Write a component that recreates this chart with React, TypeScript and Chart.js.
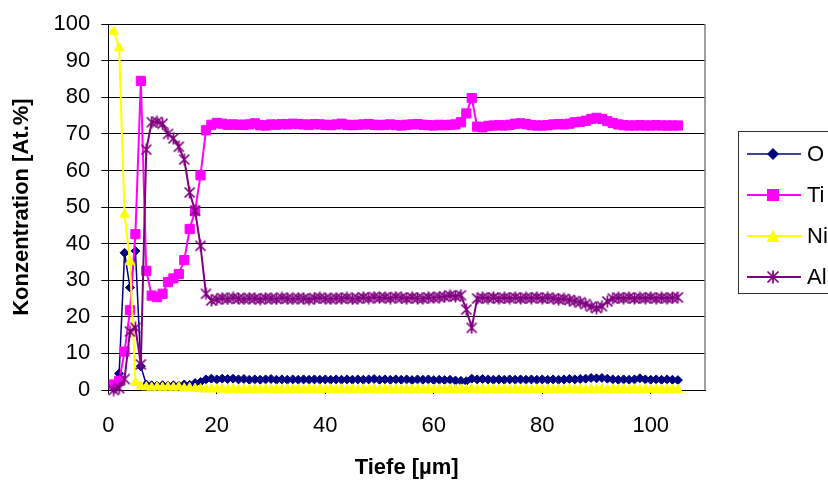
import React, { useEffect, useRef } from 'react';
import { Chart, registerables } from 'chart.js';

Chart.register(...registerables);

// ---- Data ----
const depth = [
  1, 2, 3, 4, 5, 6, 7, 8, 9, 10,
  11, 12, 13, 14, 15, 16, 17, 18, 19, 20,
  21, 22, 23, 24, 25, 26, 27, 28, 29, 30,
  31, 32, 33, 34, 35, 36, 37, 38, 39, 40,
  41, 42, 43, 44, 45, 46, 47, 48, 49, 50,
  51, 52, 53, 54, 55, 56, 57, 58, 59, 60,
  61, 62, 63, 64, 65, 66, 67, 68, 69, 70,
  71, 72, 73, 74, 75, 76, 77, 78, 79, 80,
  81, 82, 83, 84, 85, 86, 87, 88, 89, 90,
  91, 92, 93, 94, 95, 96, 97, 98, 99, 100,
  101, 102, 103, 104, 105,
];

const oxygen = [
  0.5, 4.5, 37.5, 28, 38, 6.5, 1.5, 1.3, 1.2, 1.3,
  1.2, 1.3, 1.2, 1.5, 1.4, 1.9, 2.2, 2.9, 3.1, 2.9,
  3.1, 3.0, 3.1, 2.9, 3.0, 2.8, 2.9, 2.8, 2.9, 3.0,
  2.8, 2.9, 2.8, 2.9, 2.8, 2.9, 2.8, 2.9, 2.8, 2.9,
  2.8, 2.9, 2.8, 2.9, 2.8, 2.9, 2.8, 2.9, 3.0, 2.8,
  2.9, 2.8, 2.9, 2.8, 2.9, 2.7, 2.9, 2.8, 2.9, 2.7,
  2.8, 2.7, 2.8, 2.6, 2.5, 2.4, 3.1, 2.9, 3.0, 2.9,
  2.8, 2.9, 2.8, 2.9, 2.8, 2.9, 2.8, 2.9, 2.8, 2.9,
  2.8, 2.9, 2.8, 2.9, 3.0, 2.9, 3.0, 3.1, 3.3, 3.2,
  3.3, 3.1, 2.9, 2.8, 2.9, 2.8, 2.9, 3.2, 2.9, 2.8,
  2.9, 2.8, 2.9, 2.8, 2.7,
];

const titanium = [
  1.5, 2.5, 10.5, 21.8, 42.6, 84.5, 32.6, 25.8, 25.4, 26.3,
  29.5, 30.5, 31.7, 35.5, 44, 49, 58.7, 71, 72.5, 73,
  72.8, 72.5, 72.6, 72.5, 72.5, 72.6, 72.9, 72.4, 72.3, 72.6,
  72.5, 72.7, 72.6, 72.8, 72.7, 72.6, 72.5, 72.7, 72.6, 72.5,
  72.4, 72.6, 72.8, 72.5, 72.4, 72.5, 72.6, 72.7, 72.5, 72.4,
  72.5, 72.6, 72.4, 72.3, 72.5, 72.6, 72.7, 72.5, 72.4, 72.3,
  72.5, 72.4, 72.5, 72.6, 73.2, 75.6, 79.8, 72.0, 71.8, 72.2,
  72.3, 72.4, 72.3, 72.5, 72.8, 72.9, 72.7, 72.4, 72.3, 72.3,
  72.4, 72.6, 72.7, 72.6, 72.8, 73.2, 73.3, 73.6, 74.1, 74.4,
  74.1, 73.5, 73.0, 72.6, 72.4, 72.3, 72.3, 72.4, 72.3, 72.3,
  72.4, 72.3, 72.3, 72.3, 72.3,
];

const nickel = [
  98, 93.5, 48, 35, 2, 1, 0.8, 0.7, 0.8, 0.7,
  0.8, 0.7, 0.8, 0.5, 0.6, 0.4, 0.3, 0.2, 0.3, 0.2,
  0.3, 0.1, 0.2, 0.1, 0.2, 0.1, 0.2, 0.1, 0.2, 0.1,
  0.2, 0.1, 0.2, 0.1, 0.2, 0.1, 0.2, 0.1, 0.2, 0.1,
  0.2, 0.1, 0.2, 0.1, 0.2, 0.1, 0.2, 0.1, 0.2, 0.1,
  0.2, 0.1, 0.2, 0.1, 0.2, 0.1, 0.2, 0.1, 0.2, 0.1,
  0.2, 0.1, 0.2, 0.1, 0.2, 0.1, 0.2, 0.1, 0.2, 0.1,
  0.2, 0.1, 0.2, 0.1, 0.2, 0.1, 0.2, 0.1, 0.2, 0.1,
  0.2, 0.1, 0.2, 0.1, 0.2, 0.1, 0.2, 0.1, 0.2, 0.1,
  0.2, 0.1, 0.2, 0.1, 0.2, 0.1, 0.2, 0.1, 0.2, 0.1,
  0.2, 0.1, 0.2, 0.1, 0.1,
];

const aluminium = [
  0, 0.5, 3, 16, 17, 7, 65.7, 73.2, 73.3, 72.8,
  70, 68.8, 66.5, 63, 54, 49, 39.4, 26.3, 24.5, 24.8,
  25.1, 24.9, 25.2, 25.0, 24.9, 25.1, 25.0, 24.8, 25.1, 25.0,
  24.9, 25.2, 25.0, 24.9, 25.1, 25.0, 24.8, 25.1, 25.2, 25.0,
  24.9, 25.1, 25.0, 25.2, 24.9, 25.0, 25.3, 25.1, 25.4, 25.2,
  25.3, 25.1, 25.4, 25.2, 25.0, 25.3, 25.1, 25.0, 25.3, 25.2,
  25.4, 25.5, 25.8, 25.6, 25.9, 22.0, 17.0, 25.0, 25.2, 25.1,
  25.3, 25.0, 25.2, 25.1, 25.3, 25.0, 25.2, 25.1, 25.3, 25.0,
  25.2, 25.0, 24.8, 24.9, 24.6, 24.3, 24.0, 23.5, 22.8, 22.4,
  22.9, 24.2, 25.0, 25.2, 25.1, 25.3, 25.0, 25.2, 25.1, 25.3,
  25.0, 25.2, 25.1, 25.2, 25.3,
];

const seriesNames = ['O', 'Ti', 'Ni', 'Al'];
const xTickValues = [0, 20, 40, 60, 80, 100];
const yTickValues = [0, 10, 20, 30, 40, 50, 60, 70, 80, 90, 100];

const xTitle = 'Tiefe [µm]';
const yTitle = 'Konzentration [At.%]';

const COLORS = ['#000080', '#FF00FF', '#FFFF00', '#800080'];
const FONT = '"Liberation Sans", Arial, Helvetica, sans-serif';

const W = 828;
const H = 482;

function makeStar(color: string, size: number) {
  const c = document.createElement('canvas');
  c.width = size;
  c.height = size;
  const ctx = c.getContext('2d')!;
  ctx.strokeStyle = color;
  ctx.lineWidth = 1.7;
  ctx.lineCap = 'butt';
  const m = 1.5;
  const mid = size / 2;
  ctx.beginPath();
  ctx.moveTo(m, m);
  ctx.lineTo(size - m, size - m);
  ctx.moveTo(size - m, m);
  ctx.lineTo(m, size - m);
  ctx.moveTo(mid, 0.5);
  ctx.lineTo(mid, size - 0.5);
  ctx.stroke();
  return c;
}

export default function App() {
  const ref = useRef<HTMLCanvasElement | null>(null);

  useEffect(() => {
    const canvas = ref.current;
    if (!canvas) return;
    const starPlot = makeStar(COLORS[3], 13);
    const starLegend = makeStar(COLORS[3], 14);

    const mk = (vals: number[]) => depth.map((d, i) => ({ x: d, y: vals[i] }));

    const legendPlugin = {
      id: 'excelFrameLegend',
      afterDraw(chart: any) {
        const ctx = chart.ctx as CanvasRenderingContext2D;
        const a = chart.chartArea;
        ctx.save();
        // right border of plot area
        ctx.strokeStyle = '#808080';
        ctx.lineWidth = 1.5;
        ctx.beginPath();
        ctx.moveTo(a.right, a.top);
        ctx.lineTo(a.right, a.bottom);
        ctx.stroke();

        // legend box (partly outside the picture, as in the original)
        ctx.strokeStyle = '#333333';
        ctx.lineWidth = 1;
        ctx.strokeRect(738.5, 131.5, 150, 162);
        const ys = [154, 195, 236, 277];
        ctx.font = `22px ${FONT}`;
        ctx.textBaseline = 'middle';
        ctx.textAlign = 'left';
        seriesNames.forEach((name, i) => {
          const y = ys[i];
          const col = COLORS[i];
          ctx.strokeStyle = col;
          ctx.lineWidth = i === 0 ? 1.5 : 2;
          ctx.beginPath();
          ctx.moveTo(747, y);
          ctx.lineTo(801, y);
          ctx.stroke();
          const x = 773;
          ctx.fillStyle = col;
          ctx.beginPath();
          if (i === 0) {
            ctx.moveTo(x, y - 6);
            ctx.lineTo(x + 6, y);
            ctx.lineTo(x, y + 6);
            ctx.lineTo(x - 6, y);
            ctx.closePath();
            ctx.fill();
          } else if (i === 1) {
            ctx.fillRect(x - 6, y - 6, 12, 12);
          } else if (i === 2) {
            ctx.moveTo(x, y - 6.5);
            ctx.lineTo(x + 6.5, y + 6);
            ctx.lineTo(x - 6.5, y + 6);
            ctx.closePath();
            ctx.fill();
          } else {
            ctx.drawImage(starLegend, x - 7, y - 7);
          }
          ctx.fillStyle = '#000';
          ctx.fillText(name, 807, y + 1);
        });
        ctx.restore();
      },
    };

    const chart = new Chart(canvas, {
      type: 'line',
      data: {
        datasets: [
          {
            label: seriesNames[0],
            data: mk(oxygen),
            borderColor: COLORS[0],
            backgroundColor: COLORS[0],
            pointBackgroundColor: COLORS[0],
            pointBorderColor: COLORS[0],
            pointStyle: 'rectRot',
            pointRadius: 4.5,
            pointBorderWidth: 1,
            borderWidth: 1.5,
            order: 4,
            clip: false as any,
          },
          {
            label: seriesNames[1],
            data: mk(titanium),
            borderColor: COLORS[1],
            backgroundColor: COLORS[1],
            pointBackgroundColor: COLORS[1],
            pointBorderColor: COLORS[1],
            pointStyle: 'rect',
            pointRadius: 6.5,
            pointBorderWidth: 1,
            borderWidth: 2,
            order: 3,
            clip: false as any,
          },
          {
            label: seriesNames[2],
            data: mk(nickel),
            borderColor: COLORS[2],
            backgroundColor: COLORS[2],
            pointBackgroundColor: COLORS[2],
            pointBorderColor: COLORS[2],
            pointStyle: 'triangle',
            pointRadius: 5.5,
            pointBorderWidth: 1,
            borderWidth: 2,
            order: 2,
            clip: false as any,
          },
          {
            label: seriesNames[3],
            data: mk(aluminium),
            borderColor: COLORS[3],
            backgroundColor: COLORS[3],
            pointStyle: starPlot as any,
            pointRadius: 6,
            borderWidth: 2,
            order: 1,
            clip: false as any,
          },
        ],
      },
      options: {
        animation: false,
        responsive: false,
        maintainAspectRatio: false,
        devicePixelRatio: 1,
        layout: { padding: { left: 0, right: 123, top: 22.3, bottom: 0 } },
        plugins: {
          legend: { display: false },
          tooltip: { enabled: false },
        },
        elements: { line: { tension: 0 } },
        scales: {
          x: {
            type: 'linear',
            position: 'bottom',
            min: 0,
            max: 110,
            afterBuildTicks: (s: any) => {
              s.ticks = xTickValues.map((v) => ({ value: v }));
            },
            afterFit: (s: any) => {
              s.height = 92;
            },
            ticks: {
              color: '#000',
              font: { family: FONT, size: 22 },
              padding: 19,
              maxRotation: 0,
              autoSkip: false,
            },
            grid: {
              drawOnChartArea: false,
              drawTicks: true,
              tickLength: 4,
              color: '#000',
            },
            border: { color: '#000', width: 1 },
            title: {
              display: true,
              text: xTitle,
              color: '#000',
              font: { family: FONT, size: 22, weight: 'bold' },
              padding: { top: 0, bottom: 1 },
            },
          },
          y: {
            type: 'linear',
            min: 0,
            max: 100,
            afterBuildTicks: (s: any) => {
              s.ticks = yTickValues.map((v) => ({ value: v }));
            },
            afterFit: (s: any) => {
              s.width = 108.3;
            },
            ticks: {
              color: '#000',
              font: { family: FONT, size: 22 },
              padding: 11,
              autoSkip: false,
            },
            grid: {
              color: '#000',
              lineWidth: 1,
              drawTicks: true,
              tickLength: 7,
            },
            border: { color: '#000', width: 1 },
            title: {
              display: true,
              text: yTitle,
              color: '#000',
              font: { family: FONT, size: 22, weight: 'bold' },
              padding: { top: 9, bottom: 0 },
            },
          },
        },
      },
      plugins: [legendPlugin],
    } as any);

    return () => {
      chart.destroy();
    };
  }, []);

  return (
    <div
      style={{
        position: 'fixed',
        left: 0,
        top: 0,
        width: W,
        height: H,
        overflow: 'hidden',
        background: '#fff',
      }}
    >
      <canvas
        ref={ref}
        width={W}
        height={H}
        style={{ display: 'block', width: W, height: H }}
      />
    </div>
  );
}
